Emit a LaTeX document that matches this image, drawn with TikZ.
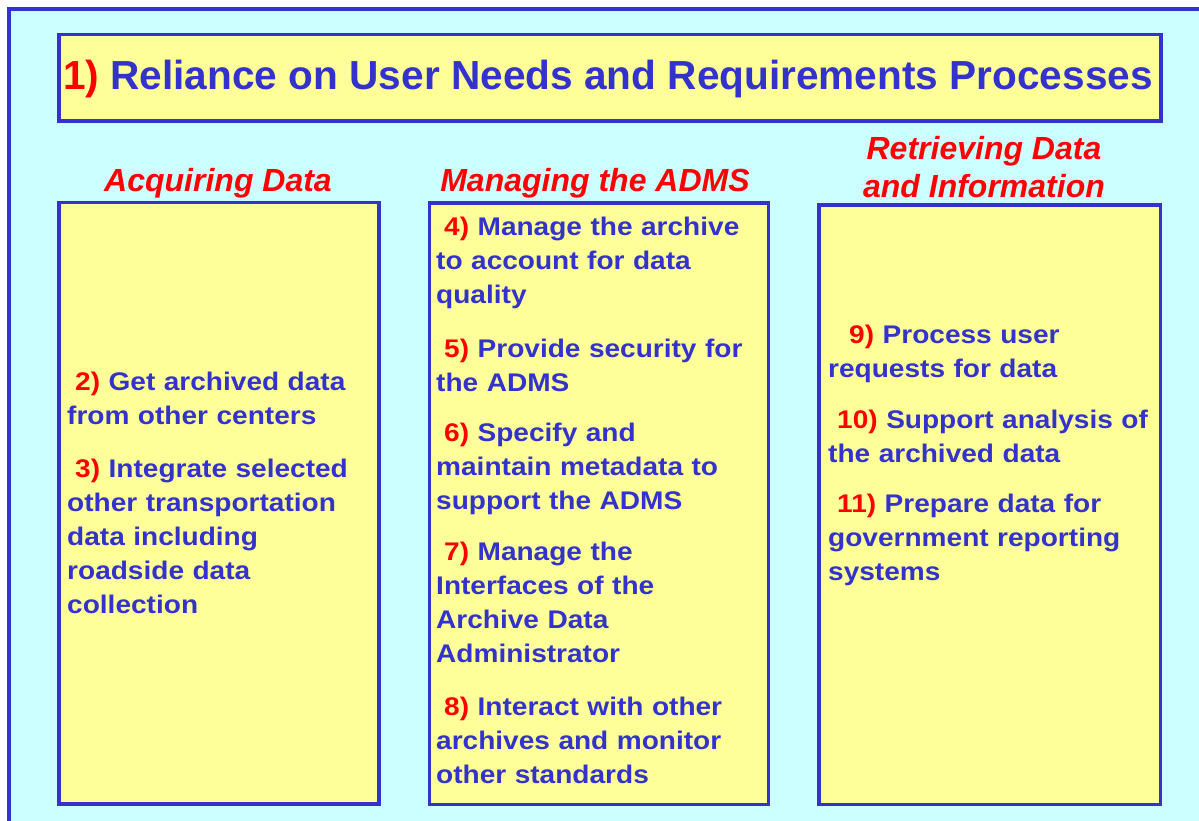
\documentclass[tikz,border=0pt]{standalone}
\usepackage{fontspec}
\setmainfont{Liberation Sans}
\newfontfamily\stretchedsans{Liberation Sans}[FakeStretch=1.1]

\definecolor{adblue}{HTML}{3333CC}
\definecolor{adred}{HTML}{FF0000}
\definecolor{adyellow}{HTML}{FFFF99}
\definecolor{adcyan}{HTML}{CCFFFF}

\newcommand{\num}[1]{\textcolor{adred}{#1}}

\begin{document}
\begin{tikzpicture}[x=1pt,y=-1pt,
    panel/.style={draw=adblue,line width=3.5pt,fill=adyellow,inner sep=0pt,
                  anchor=north west},
    heading/.style={text=adred,inner sep=0pt,anchor=base,align=center,
                    font=\fontsize{32}{37}\selectfont\bfseries\itshape},
    item/.style={text=adblue,inner sep=0pt,anchor=base west,align=left,
                 text width=330pt,
                 font=\stretchedsans\fontsize{25.5}{34}\selectfont\bfseries}]
  \useasboundingbox (0,0) rectangle (1199,821);
  \clip (0,0) rectangle (1199,821);

  % background frame
  \draw[draw=adblue,line width=3.5pt,fill=adcyan] (9,9) rectangle (1230,850);

  % title
  \node[panel,minimum width=1102pt,minimum height=86.5pt] (titlebox) at (57,33) {};
  \node[text=adblue,inner sep=0pt,anchor=base,
        font=\fontsize{40.6}{45}\selectfont\bfseries] (title) at (608,90)
        {\num{1)} Reliance on User Needs and Requirements Processes};

  % column headings
  \node[heading] (hacq) at (218,192) {Acquiring Data};
  \node[heading] (hman) at (595,192) {Managing the ADMS};
  \node[heading] (hret) at (984,197) {Retrieving Data\\and Information};

  % the three panels
  \node[panel,minimum width=320pt,minimum height=601pt] (acq) at (57,201) {};
  \node[panel,minimum width=339pt,minimum height=601pt] (man) at (427.5,201.5) {};
  \node[panel,minimum width=341.5pt,minimum height=599pt] (ret) at (817,203.5) {};

  % acquiring data
  \node[item] (p2) at (67,390) {\hspace*{8pt}\num{2)} Get archived data\\from other centers};
  \node[item] (p3) at (67,477) {\hspace*{8pt}\num{3)} Integrate selected\\other transportation\\data including\\roadside data\\collection};

  % managing the ADMS
  \node[item] (p4) at (436,236) {\hspace*{8pt}\num{4)} Manage the archive\\to account for data\\quality};
  \node[item] (p5) at (436,357) {\hspace*{8pt}\num{5)} Provide security for\\the ADMS};
  \node[item] (p6) at (436,441) {\hspace*{8pt}\num{6)} Specify and\\maintain metadata to\\support the ADMS};
  \node[item] (p7) at (436,560) {\hspace*{8pt}\num{7)} Manage the\\Interfaces of the\\Archive Data\\Administrator};
  \node[item] (p8) at (436,715) {\hspace*{8pt}\num{8)} Interact with other\\archives and monitor\\other standards};

  % retrieving data
  \node[item] (p9) at (828,343) {\hspace*{21pt}\num{9)} Process user\\requests for data};
  \node[item] (p10) at (828,428) {\hspace*{9pt}\num{10)} Support analysis of\\the archived data};
  \node[item] (p11) at (828,512) {\hspace*{9pt}\num{11)} Prepare data for\\government reporting\\systems};
\end{tikzpicture}
\end{document}
